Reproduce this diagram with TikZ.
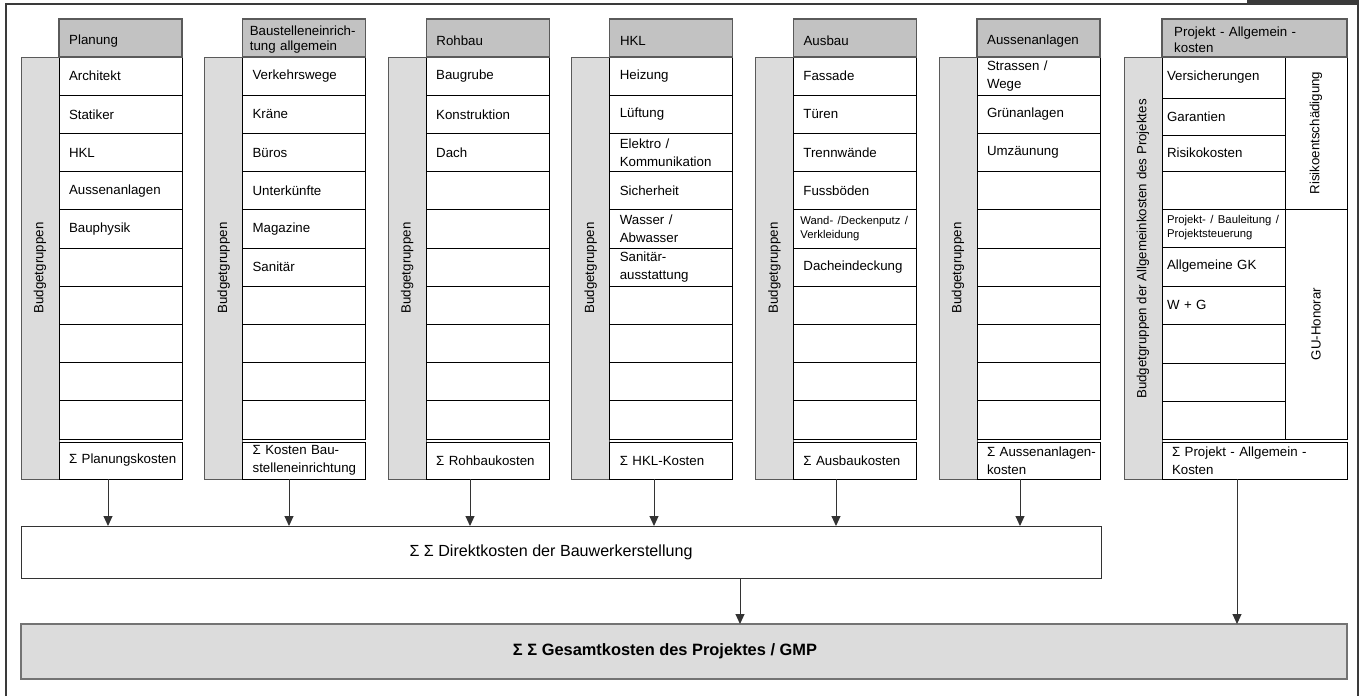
\documentclass[tikz,border=0pt]{standalone}
\usepackage{fontspec}
\setmainfont{Liberation Sans}
\usetikzlibrary{arrows.meta}
\definecolor{hdrgray}{HTML}{C2C2C2}
\definecolor{sidegray}{HTML}{DCDCDC}
\definecolor{boxgray}{HTML}{DCDCDC}
\definecolor{edgegray}{HTML}{5A5A5A}
\definecolor{framec}{HTML}{3A3A3A}
\newcommand\myfs[2]{\fontsize{#1}{#2}\selectfont}
\newcommand\smtxt[2]{{\myfs{11.3}{14}\leftskip=#1pt #2\par}}
% #1 id, #2 x of side bar, #3 header label options, #4 header, #5 items, #6 sum text
\newcommand\bcol[6]{%
  \node[side, label={[sidelab]center:Budgetgruppen}] (g#1) at (#2,57) {};
  \foreach \t [count=\r from 0] in {#5} {\node[item] (r#1-\r) at (#2+38,57+38.2*\r) {\t};}
  \node[sumb] (s#1) at (#2+38,442) {#6};
  \node[hdr, label={[hlab,#3]west:#4}] (h#1) at (#2+38,19) {};
}
\begin{document}
\begin{tikzpicture}[x=1pt,y=-1pt,
  base/.style={outer sep=0pt, anchor=north west},
  lskip/.style={execute at begin node={\leftskip=#1pt\relax\hyphenpenalty=10000\relax}},
  hdr/.style={base, draw=edgegray, line width=1.2pt, fill=hdrgray, minimum width=123pt, minimum height=38pt, inner sep=0pt},
  hlab/.style={anchor=west, xshift=10pt, yshift=-3pt, align=left, inner sep=0pt, text width=112pt,
    lskip=0, font=\myfs{13.3}{15.5}},
  side/.style={base, draw=edgegray, line width=1pt, fill=sidegray, minimum width=38pt, minimum height=422pt, inner sep=0pt},
  sidelab/.style={rotate=90, font=\myfs{13.3}{16}, inner sep=0pt},
  item/.style={base, draw=black, line width=0.9pt, fill=white, minimum width=123pt, minimum height=38.2pt,
    inner xsep=0pt, inner ysep=0pt, text width=123pt, align=left, lskip=10, font=\myfs{13.3}{18}},
  pitem/.style={item, lskip=5},
  sumb/.style={item, minimum height=37pt},
  arr/.style={draw=black!80, line width=1pt, -{Triangle[length=10pt,width=9pt]}},
  bigbox/.style={base, inner sep=0pt}
]
\useasboundingbox (0,0) rectangle (1359,696);
% frame
\draw[framec, line width=1.5pt] (6,696) -- (6,4) -- (1358,4) -- (1358,696);
\draw[framec, line width=3pt] (1247,1.5) -- (1359,1.5);

\bcol{1}{21}{}{Planung}{Architekt,Statiker,HKL,Aussenanlagen,Bauphysik,{},{},{},{},{}}{Σ Planungskosten}
\bcol{2}{204.6}{xshift=-3pt, yshift=1.5pt}{Baustelleneinrich-\\tung allgemein}{Verkehrswege,Kräne,Büros,Unterkünfte,Magazine,Sanitär,{},{},{},{}}{Σ Kosten Bau-\\stelleneinrichtung}
\bcol{3}{388.2}{}{Rohbau}{Baugrube,Konstruktion,Dach,{},{},{},{},{},{},{}}{Σ Rohbaukosten}
\bcol{4}{571.8}{}{HKL}{Heizung,Lüftung,{Elektro /\\Kommunikation},Sicherheit,{Wasser /\\Abwasser},{Sanitär-\\ausstattung},{},{},{},{}}{Σ HKL-Kosten}
\bcol{5}{755.4}{}{Ausbau}{Fassade,Türen,Trennwände,Fussböden,{\smtxt{7}{Wand- /Deckenputz /\\Verkleidung}},Dacheindeckung,{},{},{},{}}{Σ Ausbaukosten}
\bcol{6}{939}{}{Aussenanlagen}{{Strassen /\\Wege},Grünanlagen,Umzäunung,{},{},{},{},{},{},{}}{Σ Aussenanlagen-\\kosten}

% project column
\node[side, label={[yshift=19pt, sidelab]center:Budgetgruppen der Allgemeinkosten des Projektes}] (gP) at (1124,57) {};
\foreach \t/\ya/\yb [count=\r from 0] in {Versicherungen/57/98, Garantien/98/135, Risikokosten/135/171, {}/171/209,
    {\smtxt{5}{Projekt- / Bauleitung /\\Projektsteuerung}}/209/247, Allgemeine GK/247/286, W + G/286/324,
    {}/324/363, {}/363/401, {}/401/439}
  {\node[pitem, minimum height=\yb-\ya] (rP-\r) at (1162,\ya) {\t};}
\node[base, draw=black, line width=0.9pt, fill=white, minimum width=62pt, minimum height=152pt, inner sep=0pt,
  label={[sidelab]center:Risikoentschädigung}] (risk) at (1285,57) {};
\node[base, draw=black, line width=0.9pt, fill=white, minimum width=62pt, minimum height=230pt, inner sep=0pt,
  label={[sidelab]center:GU-Honorar}] (gu) at (1285,209) {};
\node[sumb, minimum width=185pt, text width=185pt] (sP) at (1162,442) {Σ Projekt - Allgemein -\\Kosten};
\node[hdr, minimum width=185pt, label={[hlab, xshift=2pt, yshift=1pt, text width=170pt, font=\myfs{13.3}{16.3}]west:Projekt - Allgemein -\\kosten}] (hP) at (1162,19) {};

% totals
\node[bigbox, draw=black!80, line width=1pt, fill=white, minimum width=1080pt, minimum height=52pt,
  label={[font=\myfs{16.1}{18}, xshift=-10pt]center:Σ Σ Direktkosten der Bauwerkerstellung}] (dk) at (21,526) {};
\node[bigbox, draw=black!55, line width=2pt, fill=boxgray, minimum width=1326pt, minimum height=55pt,
  label={[font=\myfs{16.4}{18}\bfseries, xshift=-19pt]center:Σ Σ Gesamtkosten des Projektes / GMP}] (gk) at (21,624) {};

% arrows
\foreach \i/\ax in {1/108,2/289,3/470,4/654,5/836,6/1020} {
  \coordinate (ax\i) at (\ax,0);
  \draw[arr] (s\i.south -| ax\i) -- (dk.north -| ax\i);
}
\coordinate (axD) at (740,0);
\coordinate (axP) at (1237,0);
\draw[arr] (dk.south -| axD) -- (gk.north -| axD);
\draw[arr] (sP.south -| axP) -- (gk.north -| axP);
\end{tikzpicture}
\end{document}
